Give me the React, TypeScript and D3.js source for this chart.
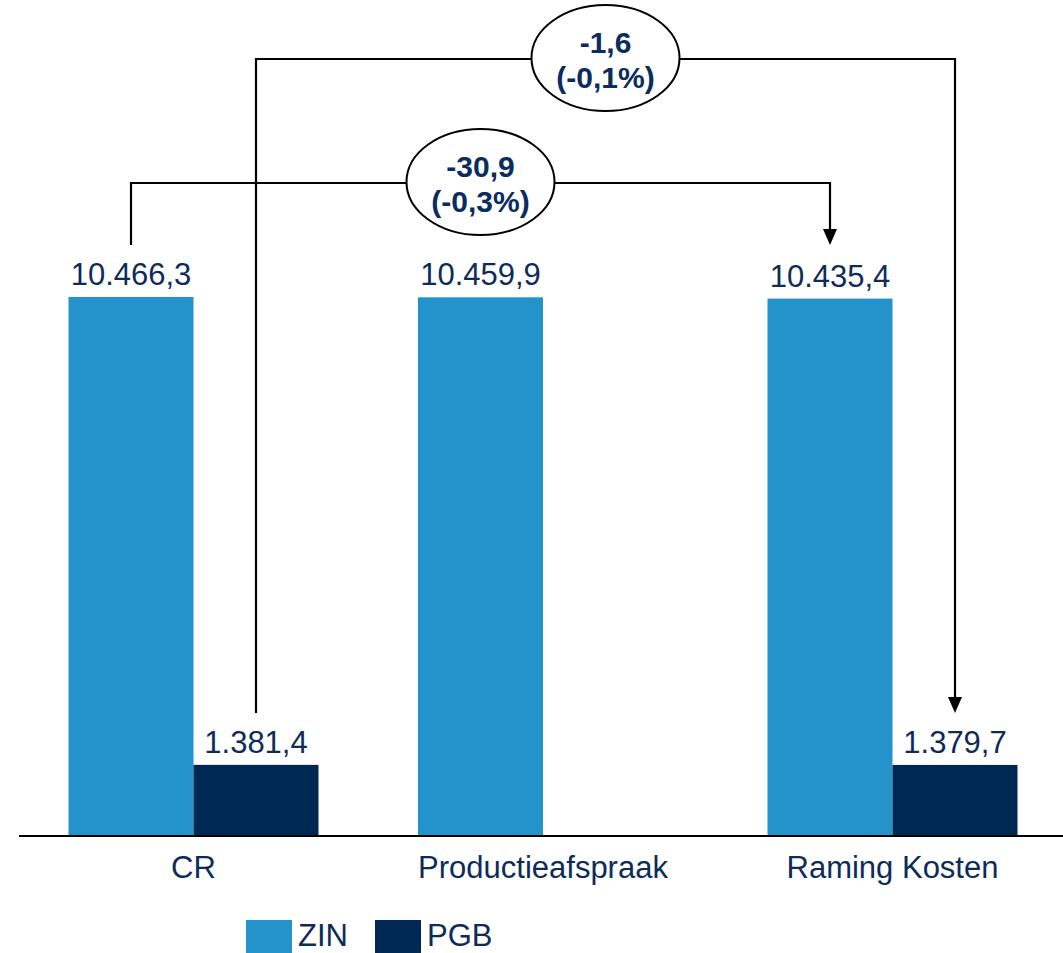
import React from "react";
import * as d3 from "d3";

const categories = ["CR", "Productieafspraak", "Raming Kosten"];
const seriesNames = ["ZIN", "PGB"];
const zinValues: (number | null)[] = [10466.3, 10459.9, 10435.4];
const pgbValues: (number | null)[] = [1381.4, null, 1379.7];
const seriesColors = ["#2492CB", "#002855"];
const diffLabels = [
  { from: 0, to: 2, series: 1, line1: "-1,6", line2: "(-0,1%)" },
  { from: 0, to: 2, series: 0, line1: "-30,9", line2: "(-0,3%)" },
];

const W = 1063;
const H = 953;
const BASE = 836;
const TEXT = "#0E2C5A";
const FONT = "'Liberation Sans', Arial, sans-serif";

const fmt = (v: number) => {
  const s = v.toFixed(1);
  const [ip, dp] = s.split(".");
  return ip.replace(/\B(?=(\d{3})+(?!\d))/g, ".") + "," + dp;
};

export default function App() {
  const x = d3.scaleBand<string>().domain(categories).range([18.75, 1067.25]).padding(0);
  const xs = d3.scaleBand<string>().domain(seriesNames).range([-125, 125]).padding(0);
  const y = d3.scaleLinear().domain([0, 16233]).range([BASE, 0]);
  const series = [zinValues, pgbValues];

  const center = (c: number) => (x(categories[c]) as number) + x.bandwidth() / 2;
  const barCx = (c: number, s: number) => center(c) + (xs(seriesNames[s]) as number) + xs.bandwidth() / 2;

  const connectorY = [59, 183];
  const startY = [713, 245];

  return (
    <svg width={W} height={H} style={{ position: "absolute", left: 0, top: 0, display: "block" }} fontFamily={FONT}>
      <rect width={W} height={H} fill="#fff" />
      {series.map((vals, s) =>
        vals.map((v, c) =>
          v == null ? null : (
            <g key={`${s}-${c}`}>
              <rect
                x={center(c) + (xs(seriesNames[s]) as number)}
                y={y(v)}
                width={xs.bandwidth()}
                height={BASE - y(v)}
                fill={seriesColors[s]}
              />
              <text x={barCx(c, s)} y={y(v) - 12} textAnchor="middle" fontSize={31} fill={TEXT}>
                {fmt(v)}
              </text>
            </g>
          )
        )
      )}
      <line x1={19} x2={W} y1={BASE} y2={BASE} stroke="#000" strokeWidth={2} />
      {categories.map((c, i) => (
        <text key={c} x={center(i)} y={878} textAnchor="middle" fontSize={31} fill={TEXT}>
          {c}
        </text>
      ))}
      {diffLabels.map((d, i) => {
        const x1 = barCx(d.from, d.series);
        const x2 = barCx(d.to, d.series);
        const cy = connectorY[i];
        const sy = startY[i];
        const tip = sy;
        const mx = (x1 + x2) / 2;
        return (
          <g key={i}>
            <path
              d={`M${x1},${sy} V${cy} H${x2} V${tip - 15}`}
              fill="none"
              stroke="#000"
              strokeWidth={2.2}
            />
            <path d={`M${x2 - 7},${tip - 16} L${x2 + 7},${tip - 16} L${x2},${tip} Z`} fill="#000" />
            <ellipse cx={mx} cy={cy - 1} rx={74} ry={53} fill="#fff" stroke="#000" strokeWidth={2} />
            <text x={mx} y={cy - 6} textAnchor="middle" fontSize={30} fontWeight="bold" fill="#0A2C5E">
              {d.line1}
            </text>
            <text x={mx} y={cy + 29} textAnchor="middle" fontSize={30} fontWeight="bold" fill="#0A2C5E">
              {d.line2}
            </text>
          </g>
        );
      })}
      {seriesNames.map((n, i) => {
        const lx = [246, 375][i];
        return (
          <g key={n}>
            <rect x={lx} y={920} width={46} height={33} fill={seriesColors[i]} />
            <text x={lx + 52} y={946} fontSize={31} fill={TEXT}>
              {n}
            </text>
          </g>
        );
      })}
    </svg>
  );
}
